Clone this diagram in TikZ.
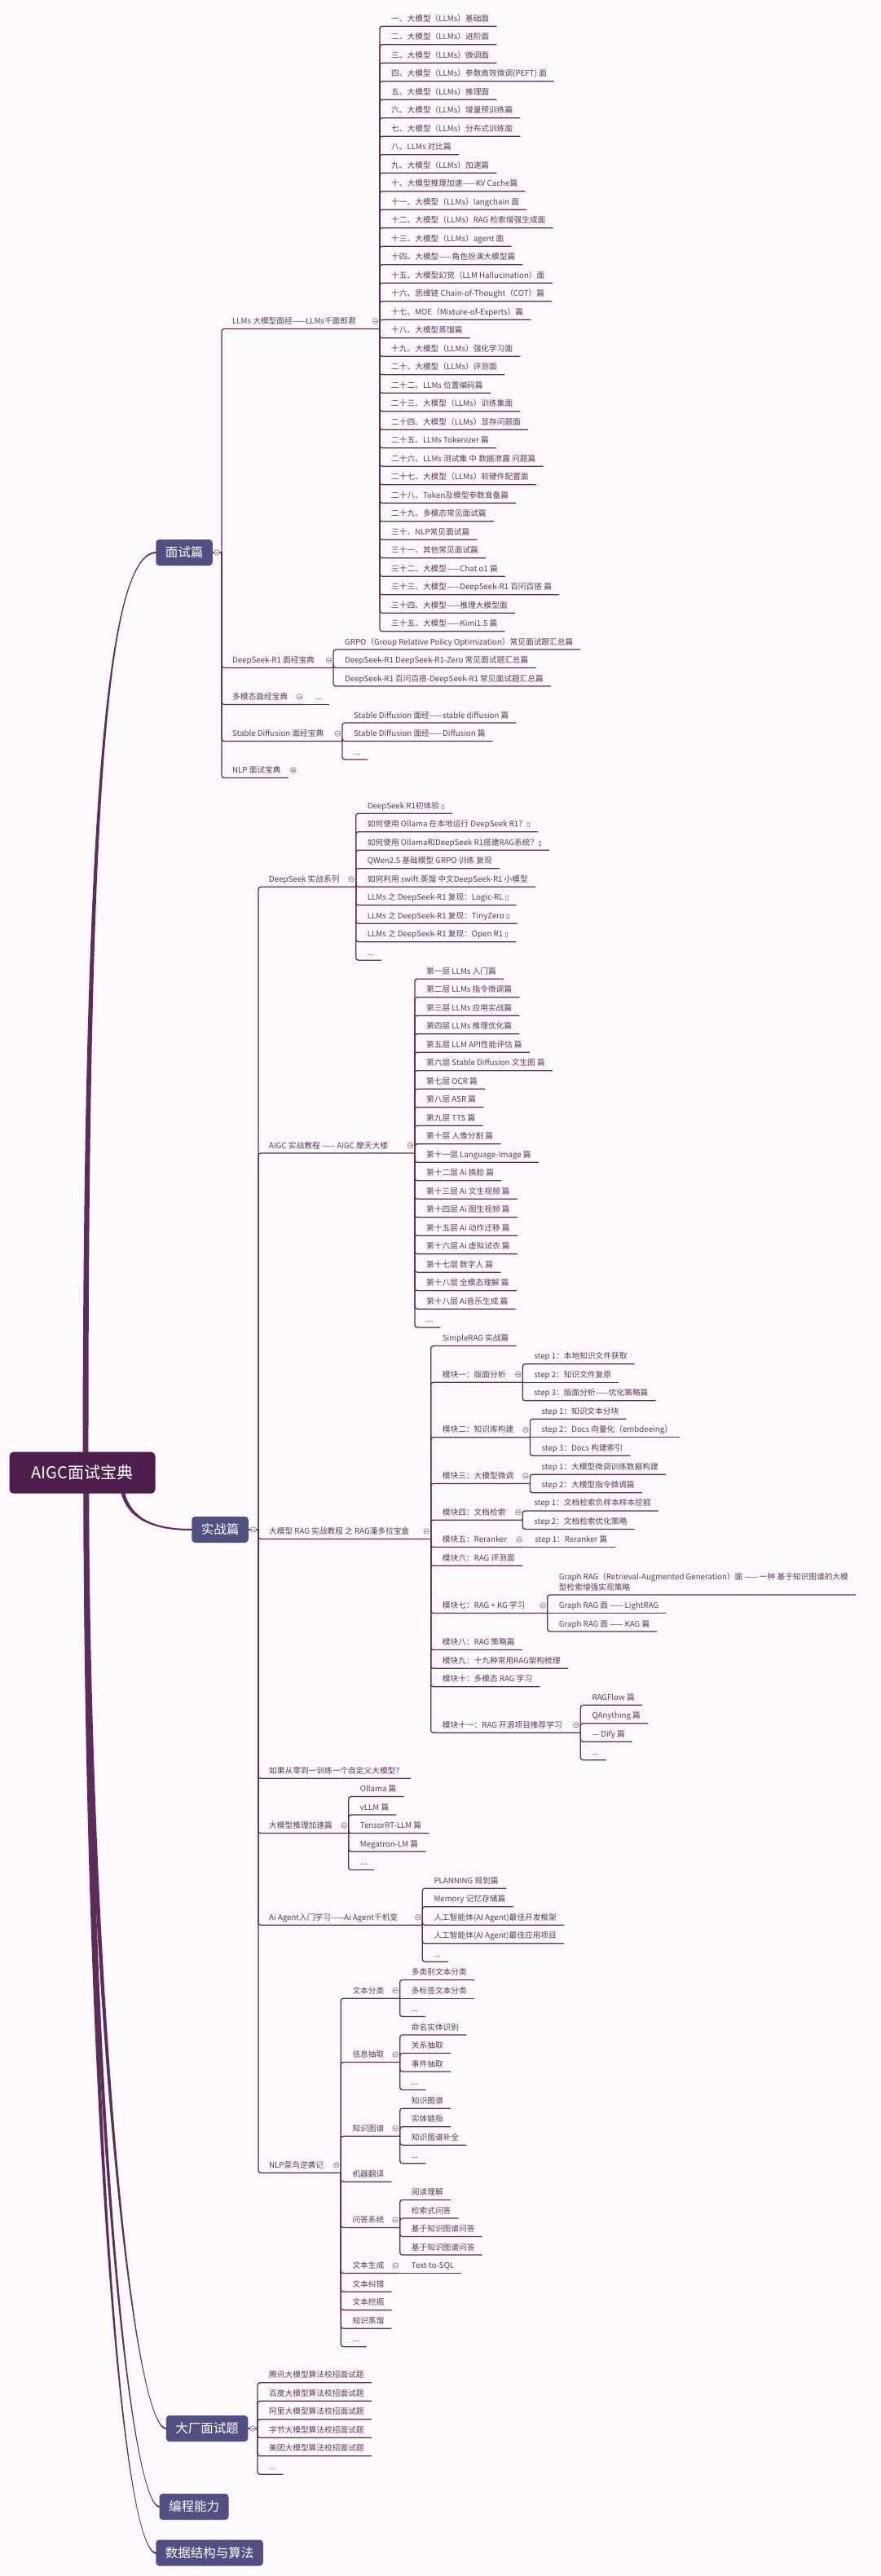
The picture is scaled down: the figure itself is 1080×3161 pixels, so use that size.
\documentclass[tikz,border=0pt]{standalone}
\usepackage{fontspec}
\setmainfont{Noto Sans CJK SC}
\newfontfamily\djv{DejaVu Sans}
\definecolor{bgc}{RGB}{253,249,253}
\definecolor{linec}{RGB}{92,44,90}
\definecolor{txtc}{RGB}{88,56,88}
\definecolor{rootc}{RGB}{78,30,76}
\definecolor{lonec}{RGB}{82,80,130}
\definecolor{circc}{RGB}{140,124,140}
\newcommand\tofu{{\djv\fontsize{8}{10}\selectfont ▯}}
\newcommand\ddd{.{}.{}.}
\newcommand\Nd[4]{\node[txt] (#1) at (#2,#3) {#4};}
\newcommand\Jc[3]{\coordinate (#1) at (#2,#3);}
\newcommand\Lk[2]{\draw[ul] (#1) |- ([xshift=9pt,yshift=-9.5pt]#2.east);}
\newcommand\Lh[2]{\draw[ul] (#1) -- ([xshift=9pt,yshift=-9.5pt]#2.east);}
\newcommand\Pk[2]{\draw[ul] (#1) |- (#2);}
\newcommand\Cmin[2]{\draw[cir] (#1,#2) circle[radius=3.3pt]; \draw[cirl] (#1-2,#2) -- (#1+2,#2);}
\begin{document}
\begin{tikzpicture}[x=1pt,y=-1pt,
 txt/.style={anchor=west, inner sep=0pt, text height=8.5pt, text depth=1.5pt, font=\fontsize{9.7}{13}\selectfont, text=txtc},
 ul/.style={draw=linec, line width=1.3pt, rounded corners=3pt},
 lonebox/.style={fill=lonec, rounded corners=4pt, text=white, font=\fontsize{15.5}{18}\selectfont, inner xsep=11.5pt, inner ysep=0pt, minimum height=32pt},
 rootbox/.style={fill=rootc, rounded corners=5pt, text=white, font=\fontsize{20}{24}\selectfont, minimum width=179pt, minimum height=51pt, inner sep=0pt},
 cir/.style={draw=circc, line width=0.7pt, fill=bgc},
 cirl/.style={draw=circc, line width=0.7pt}]
\fill[bgc] (0,0) rectangle (1080,3161);
\useasboundingbox (0,0) rectangle (1080,3161);

% ---------- main branch curves ----------
\fill[linec] (101.5,1800) .. controls (102,1000) and (130,677) .. (192,677) -- (192,679) .. controls (130,679) and (108,1000) .. (108.5,1800) -- cycle;
\fill[linec] (147.5,1828) .. controls (156,1869) and (195,1878) .. (236,1878) -- (236,1876) .. controls (195,1876) and (160,1867) .. (152.5,1828) -- cycle;
\fill[linec] (102.5,1828) .. controls (105,2400) and (160,2981) .. (204,2981) -- (204,2979) .. controls (160,2979) and (111,2400) .. (109,1828) -- cycle;
\fill[linec] (102.5,1828) .. controls (103,2500) and (155,3077) .. (196,3077) -- (196,3075) .. controls (155,3075) and (109,2500) .. (109,1828) -- cycle;
\fill[linec] (102.5,1828) .. controls (103,2500) and (145,3134) .. (192,3134) -- (192,3132) .. controls (145,3132) and (109,2500) .. (109,1828) -- cycle;

% ---------- level 1 boxes ----------
\node[rootbox] (root) at (101,1807.2) {AIGC面试宝典};
\node[lonebox] (ms) at (226,678) {面试篇};
\node[lonebox] (sz) at (270,1877) {实战篇};
\node[lonebox] (dc) at (254,2980) {大厂面试题};
\node[lonebox] (bc) at (238,3076) {编程能力};
\node[lonebox] (sj) at (257,3132.5) {数据结构与算法};

% ---------- 面试篇 ----------
\Jc{ms-j}{272}{678}
\draw[ul] (ms.east) -- (ms-j);
\Nd{llm}{285}{394}{LLMs 大模型面经——LLMs千面郎君} \Jc{llm-j}{466}{403.5} \Pk{ms-j}{llm-j}
\foreach \tx [count=\i from 0] in {{一、大模型（LLMs）基础面},{二、大模型（LLMs）进阶面},{三、大模型（LLMs）微调面},{四、大模型（LLMs）参数高效微调(PEFT) 面},{五、大模型（LLMs）推理面},{六、大模型（LLMs）增量预训练篇},{七、大模型（LLMs）分布式训练面},{八、LLMs 对比篇},{九、大模型（LLMs）加速篇},{十、大模型推理加速——KV Cache篇},{十一、大模型（LLMs）langchain 面},{十二、大模型（LLMs）RAG 检索增强生成面},{十三、大模型（LLMs）agent 面},{十四、大模型——角色扮演大模型篇},{十五、大模型幻觉（LLM Hallucination）面},{十六、思维链 Chain-of-Thought（COT）篇},{十七、MOE（Mixture-of-Experts）篇},{十八、大模型蒸馏篇},{十九、大模型（LLMs）强化学习面},{二十、大模型（LLMs）评测面},{二十二、LLMs 位置编码篇},{二十三、大模型（LLMs）训练集面},{二十四、大模型（LLMs）显存问题面},{二十五、LLMs Tokenizer 篇},{二十六、LLMs 测试集 中 数据泄露 问题篇},{二十七、大模型（LLMs）软硬件配置面},{二十八、Token及模型参数准备篇},{二十九、多模态常见面试篇},{三十、NLP常见面试篇},{三十一、其他常见面试篇},{三十二、大模型——Chat o1 篇},{三十三、大模型——DeepSeek-R1 百问百搭 篇},{三十四、大模型——推理大模型面},{三十五、大模型——Kimi1.5 篇}}{
 \Nd{l\i}{480}{22.7+22.5*\i}{\tx} \Lk{llm-j}{l\i}
}
\Nd{dsr}{285}{810}{DeepSeek-R1 面经宝典} \Jc{dsr-j}{409}{819.5} \Pk{ms-j}{dsr-j}
\Nd{dsr1}{423}{787.5}{GRPO（Group Relative Policy Optimization）常见面试题汇总篇} \Lk{dsr-j}{dsr1}
\Nd{dsr2}{423}{810}{DeepSeek-R1 DeepSeek-R1-Zero 常见面试题汇总篇} \Lk{dsr-j}{dsr2}
\Nd{dsr3}{423}{832.5}{DeepSeek-R1 百问百搭-DeepSeek-R1 常见面试题汇总篇} \Lk{dsr-j}{dsr3}
\Nd{mmd}{285}{855}{多模态面经宝典} \Jc{mmd-j}{373}{864.5} \Pk{ms-j}{mmd-j}
\Nd{mmd1}{387}{855}{\ddd} \Lh{mmd-j}{mmd1}
\Nd{sd}{285}{900}{Stable Diffusion 面经宝典} \Jc{sd-j}{420}{909.5} \Pk{ms-j}{sd-j}
\Nd{sd1}{434}{877.5}{Stable Diffusion 面经——stable diffusion 篇} \Lk{sd-j}{sd1}
\Nd{sd2}{434}{900}{Stable Diffusion 面经——Diffusion 篇} \Lk{sd-j}{sd2}
\Nd{sd3}{434}{922.5}{\ddd} \Lk{sd-j}{sd3}
\Nd{nlpq}{285}{945}{NLP 面试宝典} \Lk{ms-j}{nlpq}

% ---------- 实战篇 ----------
\Jc{sz-j}{317}{1877}
\draw[ul] (sz.east) -- (sz-j);
\Nd{ds}{330}{1078.7}{DeepSeek 实战系列} \Jc{ds-j}{436.7}{1088.2} \Pk{sz-j}{ds-j}
\foreach \tx [count=\i from 0] in {{DeepSeek R1初体验 \tofu},{如何使用 Ollama 在本地运行 DeepSeek R1？\tofu},{如何使用 Ollama和DeepSeek R1搭建RAG系统？\tofu},{QWen2.5 基础模型 GRPO 训练 复现},{如何利用 swift 蒸馏 中文DeepSeek-R1 小模型},{LLMs 之 DeepSeek-R1 复现：Logic-RL \tofu},{LLMs 之 DeepSeek-R1 复现：TinyZero \tofu},{LLMs 之 DeepSeek-R1 复现：Open R1 \tofu},{\ddd}}{
 \Nd{d\i}{450.7}{988.7+22.5*\i}{\tx} \Lk{ds-j}{d\i}
}
\Nd{ag}{330}{1405.5}{AIGC 实战教程 —— AIGC 摩天大楼} \Jc{ag-j}{509}{1415} \Pk{sz-j}{ag-j}
\foreach \tx [count=\i from 0] in {{第一层 LLMs 入门篇},{第二层 LLMs 指令微调篇},{第三层 LLMs 应用实战篇},{第四层 LLMs 推理优化篇},{第五层 LLM API性能评估 篇},{第六层 Stable Diffusion 文生图 篇},{第七层 OCR 篇},{第八层 ASR 篇},{第九层 TTS 篇},{第十层 人像分割 篇},{第十一层 Language-Image 篇},{第十二层 Ai 换脸 篇},{第十三层 Ai 文生视频 篇},{第十四层 Ai 图生视频 篇},{第十五层 Ai 动作迁移 篇},{第十六层 Ai 虚拟试衣 篇},{第十七层 数字人 篇},{第十八层 全模态理解 篇},{第十八层 Ai音乐生成 篇},{\ddd}}{
 \Nd{a\i}{523}{1191.7+22.5*\i}{\tx} \Lk{ag-j}{a\i}
}
\Nd{rag}{330}{1879}{大模型 RAG 实战教程 之 RAG潘多拉宝盒} \Jc{rag-j}{528.7}{1888.5} \Pk{sz-j}{rag-j}
\Nd{r0}{542.7}{1642}{SimpleRAG 实战篇} \Lk{rag-j}{r0}
\Nd{r1}{542.7}{1686.7}{模块一：版面分析} \Jc{r1-j}{641.2}{1696.2} \Pk{rag-j}{r1-j}
\Nd{r1a}{655.2}{1664.2}{step 1：本地知识文件获取} \Lk{r1-j}{r1a}
\Nd{r1b}{655.2}{1686.7}{step 2：知识文件复原} \Lh{r1-j}{r1b}
\Nd{r1c}{655.2}{1709.2}{step 3：版面分析——优化策略篇} \Lk{r1-j}{r1c}
\Nd{r2}{542.7}{1754.3}{模块二：知识库构建} \Jc{r2-j}{650.4}{1763.8} \Pk{rag-j}{r2-j}
\Nd{r2a}{664.4}{1731.8}{step 1：知识文本分块} \Lk{r2-j}{r2a}
\Nd{r2b}{664.4}{1754.3}{step 2：Docs 向量化（embdeeing）} \Lh{r2-j}{r2b}
\Nd{r2c}{664.4}{1776.8}{step 3：Docs 构建索引} \Lk{r2-j}{r2c}
\Nd{r3}{542.7}{1810.9}{模块三：大模型微调} \Jc{r3-j}{650.4}{1820.4} \Pk{rag-j}{r3-j}
\Nd{r3a}{664.4}{1799.7}{step 1：大模型微调训练数据构建} \Lk{r3-j}{r3a}
\Nd{r3b}{664.4}{1822.2}{step 2：大模型指令微调篇} \Lk{r3-j}{r3b}
\Nd{r4}{542.7}{1855.7}{模块四：文档检索} \Jc{r4-j}{641.2}{1865.2} \Pk{rag-j}{r4-j}
\Nd{r4a}{655.2}{1844.4}{step 1：文档检索负样本样本挖掘} \Lk{r4-j}{r4a}
\Nd{r4b}{655.2}{1866.9}{step 2：文档检索优化策略} \Lk{r4-j}{r4b}
\Nd{r5}{542.7}{1889}{模块五：Reranker} \Jc{r5-j}{642.7}{1898.5} \Pk{rag-j}{r5-j}
\Nd{r5a}{656.2}{1889}{step 1：Reranker 篇} \Lh{r5-j}{r5a}
\Nd{r6}{542.7}{1911.7}{模块六：RAG 评测面} \Lk{rag-j}{r6}
\Nd{r7}{542.7}{1970}{模块七：RAG + KG 学习} \Jc{r7-j}{671.7}{1979.5} \Pk{rag-j}{r7-j}
\Nd{r7a}{685.7}{1935}{Graph RAG（Retrieval-Augmented Generation）面 —— 一种 基于知识图谱的大模}
\Nd{r7b}{685.7}{1947.5}{型检索增强实现策略}
\draw[ul] (r7-j) |- ([xshift=9pt,yshift=-22pt]r7a.east);
\Nd{r7c}{685.7}{1970}{Graph RAG 面 —— LightRAG} \Lh{r7-j}{r7c}
\Nd{r7d}{685.7}{1992.5}{Graph RAG 面 —— KAG 篇} \Lk{r7-j}{r7d}
\Nd{r8}{542.7}{2015}{模块八：RAG 策略篇} \Lk{rag-j}{r8}
\Nd{r9}{542.7}{2037.7}{模块九：十九种常用RAG架构梳理} \Lk{rag-j}{r9}
\Nd{r10}{542.7}{2060.2}{模块十：多模态 RAG 学习} \Lk{rag-j}{r10}
\Nd{r11}{542.7}{2116.7}{模块十一：RAG 开源项目推荐学习} \Jc{r11-j}{712.3}{2126.2} \Pk{rag-j}{r11-j}
\Nd{r11a}{726.3}{2082.7}{RAGFlow 篇} \Lk{r11-j}{r11a}
\Nd{r11b}{726.3}{2105.2}{QAnything 篇} \Lk{r11-j}{r11b}
\Nd{r11c}{726.3}{2127.7}{— Dify 篇} \Lk{r11-j}{r11c}
\Nd{r11d}{726.3}{2150.2}{\ddd} \Lk{r11-j}{r11d}
\Nd{zero}{330}{2172.7}{如果从零到一训练一个自定义大模型？} \Lk{sz-j}{zero}
\Nd{inf}{330}{2240}{大模型推理加速篇} \Jc{inf-j}{427.7}{2249.5} \Pk{sz-j}{inf-j}
\foreach \tx [count=\i from 0] in {{Ollama 篇},{vLLM 篇},{TensorRT-LLM 篇},{Megatron-LM 篇},{\ddd}}{
 \Nd{f\i}{441.7}{2195+22.5*\i}{\tx} \Lk{inf-j}{f\i}
}
\Nd{agt}{330}{2352.7}{Ai Agent入门学习——Ai Agent千机变} \Jc{agt-j}{518.3}{2362.2} \Pk{sz-j}{agt-j}
\foreach \tx [count=\i from 0] in {{PLANNING 规划篇},{Memory 记忆存储篇},{人工智能体(AI Agent)最佳开发框架},{人工智能体(AI Agent)最佳应用项目},{\ddd}}{
 \Nd{g\i}{532.3}{2307.7+22.5*\i}{\tx} \Lk{agt-j}{g\i}
}
\Nd{nlp}{330}{2656.7}{NLP菜鸟逆袭记} \Jc{nlp-j}{418.3}{2666.2} \Pk{sz-j}{nlp-j}
\Nd{n1}{432.3}{2442.7}{文本分类} \Jc{n1-j}{490.7}{2452.2} \Pk{nlp-j}{n1-j}
\Nd{n1a}{504.7}{2420}{多类别文本分类} \Lk{n1-j}{n1a}
\Nd{n1b}{504.7}{2442.7}{多标签文本分类} \Lh{n1-j}{n1b}
\Nd{n1c}{504.7}{2465}{\ddd} \Lk{n1-j}{n1c}
\Nd{n2}{432.3}{2521}{信息抽取} \Jc{n2-j}{490.7}{2530.5} \Pk{nlp-j}{n2-j}
\Nd{n2a}{504.7}{2487.5}{命名实体识别} \Lk{n2-j}{n2a}
\Nd{n2b}{504.7}{2510}{关系抽取} \Lk{n2-j}{n2b}
\Nd{n2c}{504.7}{2532.5}{事件抽取} \Lk{n2-j}{n2c}
\Nd{n2d}{504.7}{2555}{\ddd} \Lk{n2-j}{n2d}
\Nd{n3}{432.3}{2611.7}{知识图谱} \Jc{n3-j}{490.7}{2621.2} \Pk{nlp-j}{n3-j}
\Nd{n3a}{504.7}{2577.7}{知识图谱} \Lk{n3-j}{n3a}
\Nd{n3b}{504.7}{2600.2}{实体链指} \Lk{n3-j}{n3b}
\Nd{n3c}{504.7}{2622.7}{知识图谱补全} \Lk{n3-j}{n3c}
\Nd{n3d}{504.7}{2645.2}{\ddd} \Lk{n3-j}{n3d}
\Nd{n4}{432.3}{2667.7}{机器翻译} \Lk{nlp-j}{n4}
\Nd{n5}{432.3}{2724}{问答系统} \Jc{n5-j}{490.7}{2733.5} \Pk{nlp-j}{n5-j}
\Nd{n5a}{504.7}{2690}{阅读理解} \Lk{n5-j}{n5a}
\Nd{n5b}{504.7}{2712.5}{检索式问答} \Lk{n5-j}{n5b}
\Nd{n5c}{504.7}{2735}{基于知识图谱问答} \Lk{n5-j}{n5c}
\Nd{n5d}{504.7}{2757.5}{基于知识图谱问答} \Lk{n5-j}{n5d}
\Nd{n6}{432.3}{2780}{文本生成} \Jc{n6-j}{490.7}{2789.5} \Pk{nlp-j}{n6-j}
\Nd{n6a}{504.7}{2780}{Text-to-SQL} \Lh{n6-j}{n6a}
\Nd{n7}{432.3}{2802.7}{文本纠错} \Lk{nlp-j}{n7}
\Nd{n8}{432.3}{2825.2}{文本挖掘} \Lk{nlp-j}{n8}
\Nd{n9}{432.3}{2847.7}{知识蒸馏} \Lk{nlp-j}{n9}
\Nd{n10}{432.3}{2870.2}{\ddd} \Lk{nlp-j}{n10}

% ---------- 大厂面试题 ----------
\Jc{dc-j}{316}{2980}
\draw[ul] (dc.east) -- (dc-j);
\foreach \tx [count=\i from 0] in {{腾讯大模型算法校招面试题},{百度大模型算法校招面试题},{阿里大模型算法校招面试题},{字节大模型算法校招面试题},{美团大模型算法校招面试题},{\ddd}}{
 \Nd{c\i}{330}{2914.3+22.5*\i}{\tx} \Lk{dc-j}{c\i}
}

% ---------- collapse markers ----------
\Cmin{266}{678} \Cmin{460.5}{394} \Cmin{403.5}{810} \Cmin{367.5}{855} \Cmin{414.5}{900}
\draw[cir] ([xshift=15pt]nlpq.east) circle[radius=3.3pt];
\draw[cirl] ([xshift=13pt]nlpq.east) -- ([xshift=17pt]nlpq.east);
\draw[cirl] ([xshift=15pt,yshift=2pt]nlpq.east) -- ([xshift=15pt,yshift=-2pt]nlpq.east);
\Cmin{311}{1877} \Cmin{431.2}{1078.7} \Cmin{503.5}{1405.5} \Cmin{523.2}{1879}
\Cmin{635.7}{1686.7} \Cmin{644.9}{1754.3} \Cmin{644.9}{1810.9} \Cmin{635.7}{1855.7} \Cmin{637.2}{1889}
\Cmin{666.2}{1970} \Cmin{706.8}{2116.7} \Cmin{422.2}{2240} \Cmin{512.8}{2352.7} \Cmin{412.8}{2656.7}
\Cmin{485.2}{2442.7} \Cmin{485.2}{2521} \Cmin{485.2}{2611.7} \Cmin{485.2}{2724} \Cmin{485.2}{2780}
\Cmin{310}{2980}
\end{tikzpicture}
\end{document}
